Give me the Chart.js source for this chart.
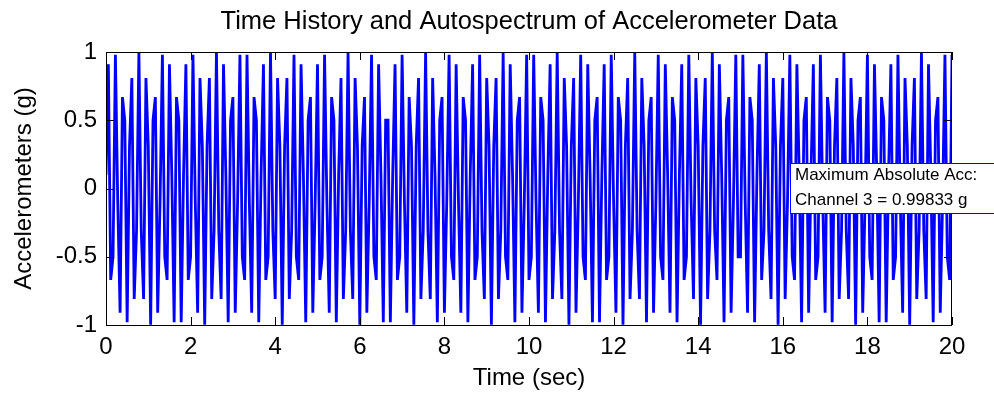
<!DOCTYPE html>
<html>
<head>
<meta charset="utf-8">
<title>Time History and Autospectrum of Accelerometer Data</title>
<script src="https://cdn.jsdelivr.net/npm/chart.js@4/dist/chart.umd.min.js"></script>
<style>
  html, body { margin: 0; padding: 0; background: #fff; }
  #wrap { width: 994px; height: 396px; }
</style>
</head>
<body>
<div id="wrap"><canvas id="accChart" width="994" height="396"></canvas></div>
<script>
// channel 3 accelerometer samples (g), 18 samples per sec, 0 to 20 s
const accel = [
  0.10, 0.91, -0.67, -0.50, 0.98, -0.10, -0.91, 0.67, 0.50, -0.98,
  0.31, 0.81, -0.81, -0.31, 0.998, -0.31, -0.81, 0.81, 0.31, -0.998,
  0.50, 0.67, -0.91, -0.10, 0.98, -0.50, -0.67, 0.91, 0.10, -0.98,
  0.67, 0.50, -0.98, 0.10, 0.91, -0.67, -0.50, 0.98, -0.10, -0.91,
  0.81, 0.31, -0.998, 0.31, 0.81, -0.81, -0.31, 0.998, -0.31, -0.81,
  0.91, 0.10, -0.98, 0.50, 0.67, -0.91, -0.10, 0.98, -0.50, -0.67,
  0.98, -0.10, -0.91, 0.67, 0.50, -0.98, 0.10, 0.91, -0.67, -0.50,
  0.998, -0.31, -0.81, 0.81, 0.31, -0.998, 0.31, 0.81, -0.81, -0.31,
  0.98, -0.50, -0.67, 0.91, 0.10, -0.98, 0.50, 0.67, -0.91, -0.10,
  0.91, -0.67, -0.50, 0.98, -0.10, -0.91, 0.67, 0.50, -0.98, 0.10,
  0.81, -0.81, -0.31, 0.998, -0.31, -0.81, 0.81, 0.31, -0.998, 0.31,
  0.67, -0.91, -0.10, 0.98, -0.50, -0.67, 0.91, 0.10, -0.98, 0.50,
  0.50, -0.98, 0.10, 0.91, -0.67, -0.50, 0.98, -0.10, -0.91, 0.67,
  0.31, -0.998, 0.31, 0.81, -0.81, -0.31, 0.998, -0.31, -0.81, 0.81,
  0.10, -0.98, 0.50, 0.67, -0.91, -0.10, 0.98, -0.50, -0.67, 0.91,
  -0.10, -0.91, 0.67, 0.50, -0.98, 0.10, 0.91, -0.67, -0.50, 0.98,
  -0.31, -0.81, 0.81, 0.31, -0.998, 0.31, 0.81, -0.81, -0.31, 0.998,
  -0.50, -0.67, 0.91, 0.10, -0.98, 0.50, 0.67, -0.91, -0.10, 0.98,
  -0.67, -0.50, 0.98, -0.10, -0.91, 0.67, 0.50, -0.98, 0.10, 0.91,
  -0.81, -0.31, 0.998, -0.31, -0.81, 0.81, 0.31, -0.998, 0.31, 0.81,
  -0.91, -0.10, 0.98, -0.50, -0.67, 0.91, 0.10, -0.98, 0.50, 0.67,
  -0.98, 0.10, 0.91, -0.67, -0.50, 0.98, -0.10, -0.91, 0.67, 0.50,
  -0.998, 0.31, 0.81, -0.81, -0.31, 0.998, -0.31, -0.81, 0.81, 0.31,
  -0.98, 0.50, 0.67, -0.91, -0.10, 0.98, -0.50, -0.67, 0.91, 0.10,
  -0.91, 0.67, 0.50, -0.98, 0.10, 0.91, -0.67, -0.50, 0.98, -0.10,
  -0.81, 0.81, 0.31, -0.998, 0.31, 0.81, -0.81, -0.31, 0.998, -0.31,
  -0.67, 0.91, 0.10, -0.98, 0.50, 0.67, -0.91, -0.10, 0.98, -0.50,
  -0.50, 0.98, -0.10, -0.91, 0.67, 0.50, -0.98, 0.10, 0.91, -0.67,
  -0.31, 0.998, -0.31, -0.81, 0.81, 0.31, -0.998, 0.31, 0.81, -0.81,
  -0.10, 0.98, -0.50, -0.67, 0.91, 0.10, -0.98, 0.50, 0.67, -0.91,
  0.10, 0.91, -0.67, -0.50, 0.98, -0.10, -0.91, 0.67, 0.50, -0.98,
  0.31, 0.81, -0.81, -0.31, 0.998, -0.31, -0.81, 0.81, 0.31, -0.998,
  0.50, 0.67, -0.91, -0.10, 0.98, -0.50, -0.67, 0.91, 0.10, -0.98,
  0.67, 0.50, -0.98, 0.10, 0.91, -0.67, -0.50, 0.98, -0.10, -0.91,
  0.81, 0.31, -0.998, 0.31, 0.81, -0.81, -0.31, 0.998, -0.31, -0.81,
  0.91, 0.10, -0.98, 0.50, 0.67, -0.91, -0.10, 0.98, -0.50, -0.67,
  0.98
];
const sampleRate = 18; // Hz

const timeTicks = [0, 2, 4, 6, 8, 10, 12, 14, 16, 18, 20];
const accTicks = [-1, -0.5, 0, 0.5, 1];

const chartTitle = "Time History and Autospectrum of Accelerometer Data";
const xTitle = "Time (sec)";
const yTitle = "Accelerometers (g)";
const noteLines = ["Maximum Absolute Acc:", "Channel 3 = 0.99833 g"];

const fontFam = '"Liberation Sans", Arial, sans-serif';
Chart.defaults.font.family = fontFam;
Chart.defaults.font.size = 24;
Chart.defaults.color = "#000";

// matlab style frame: box, ticks pointing inwards, titles and the note box
const matlabFrame = {
  id: "matlabFrame",
  afterDatasetsDraw(chart) {
    const { ctx, chartArea: a, scales: { x, y } } = chart;
    ctx.save();
    ctx.strokeStyle = "#000";
    ctx.lineWidth = 1;
    ctx.strokeRect(a.left + 0.5, a.top + 0.5, a.right - a.left - 1, a.bottom - a.top);
    ctx.beginPath();
    timeTicks.forEach(v => {
      const px = Math.round(x.getPixelForValue(v)) + 0.5;
      ctx.moveTo(px, a.bottom); ctx.lineTo(px, a.bottom - 8);
      ctx.moveTo(px, a.top); ctx.lineTo(px, a.top + 8);
    });
    accTicks.forEach(v => {
      const py = Math.round(y.getPixelForValue(v)) + 0.5;
      ctx.moveTo(a.left, py); ctx.lineTo(a.left + 8, py);
      ctx.moveTo(a.right, py); ctx.lineTo(a.right - 8, py);
    });
    ctx.stroke();
    ctx.restore();
  },
  afterDraw(chart) {
    const { ctx, chartArea: a } = chart;
    const cx = (a.left + a.right) / 2;
    ctx.save();
    ctx.fillStyle = "#000";
    ctx.textAlign = "center";
    ctx.textBaseline = "middle";
    ctx.font = "25.5px " + fontFam;
    ctx.fillText(chartTitle, cx, 22);
    ctx.font = "24px " + fontFam;
    ctx.fillText(xTitle, cx, 378);
    ctx.translate(24, (a.top + a.bottom) / 2);
    ctx.rotate(-Math.PI / 2);
    ctx.fillText(yTitle, 0, 0);
    ctx.restore();

    // legend-like note at the right edge
    ctx.save();
    ctx.fillStyle = "#fff";
    ctx.fillRect(790, 163, 210, 51);
    ctx.strokeStyle = "#0000ff";
    ctx.lineWidth = 1;
    ctx.strokeRect(790.5, 163.5, 220, 50);
    ctx.fillStyle = "#000";
    ctx.font = "17px " + fontFam;
    ctx.textAlign = "left";
    ctx.textBaseline = "alphabetic";
    ctx.fillText(noteLines[0], 795, 180);
    ctx.fillText(noteLines[1], 795, 205);
    ctx.restore();
  }
};

new Chart(document.getElementById("accChart"), {
  type: "line",
  data: {
    datasets: [{
      data: accel.map((v, i) => ({ x: i / sampleRate, y: v })),
      borderColor: "#0000ff",
      borderWidth: 2.8,
      borderJoinStyle: "miter",
      pointRadius: 0,
      tension: 0,
      fill: false
    }]
  },
  options: {
    responsive: false,
    animation: false,
    devicePixelRatio: 1,
    layout: { padding: { top: 52, right: 42, left: 0, bottom: 0 } },
    plugins: { legend: { display: false }, tooltip: { enabled: false } },
    scales: {
      x: {
        type: "linear",
        min: 0, max: 20,
        afterBuildTicks: s => { s.ticks = timeTicks.map(v => ({ value: v })); },
        afterFit: s => { s.height = 71; },
        grid: { display: false, drawTicks: false },
        border: { display: false },
        ticks: { padding: 8, maxRotation: 0, callback: v => String(v) }
      },
      y: {
        type: "linear",
        min: -1, max: 1,
        afterBuildTicks: s => { s.ticks = accTicks.map(v => ({ value: v })); },
        afterFit: s => { s.width = 106; },
        grid: { display: false, drawTicks: false },
        border: { display: false },
        ticks: { padding: 9, callback: v => String(v) }
      }
    }
  },
  plugins: [matlabFrame]
});
</script>
</body>
</html>
